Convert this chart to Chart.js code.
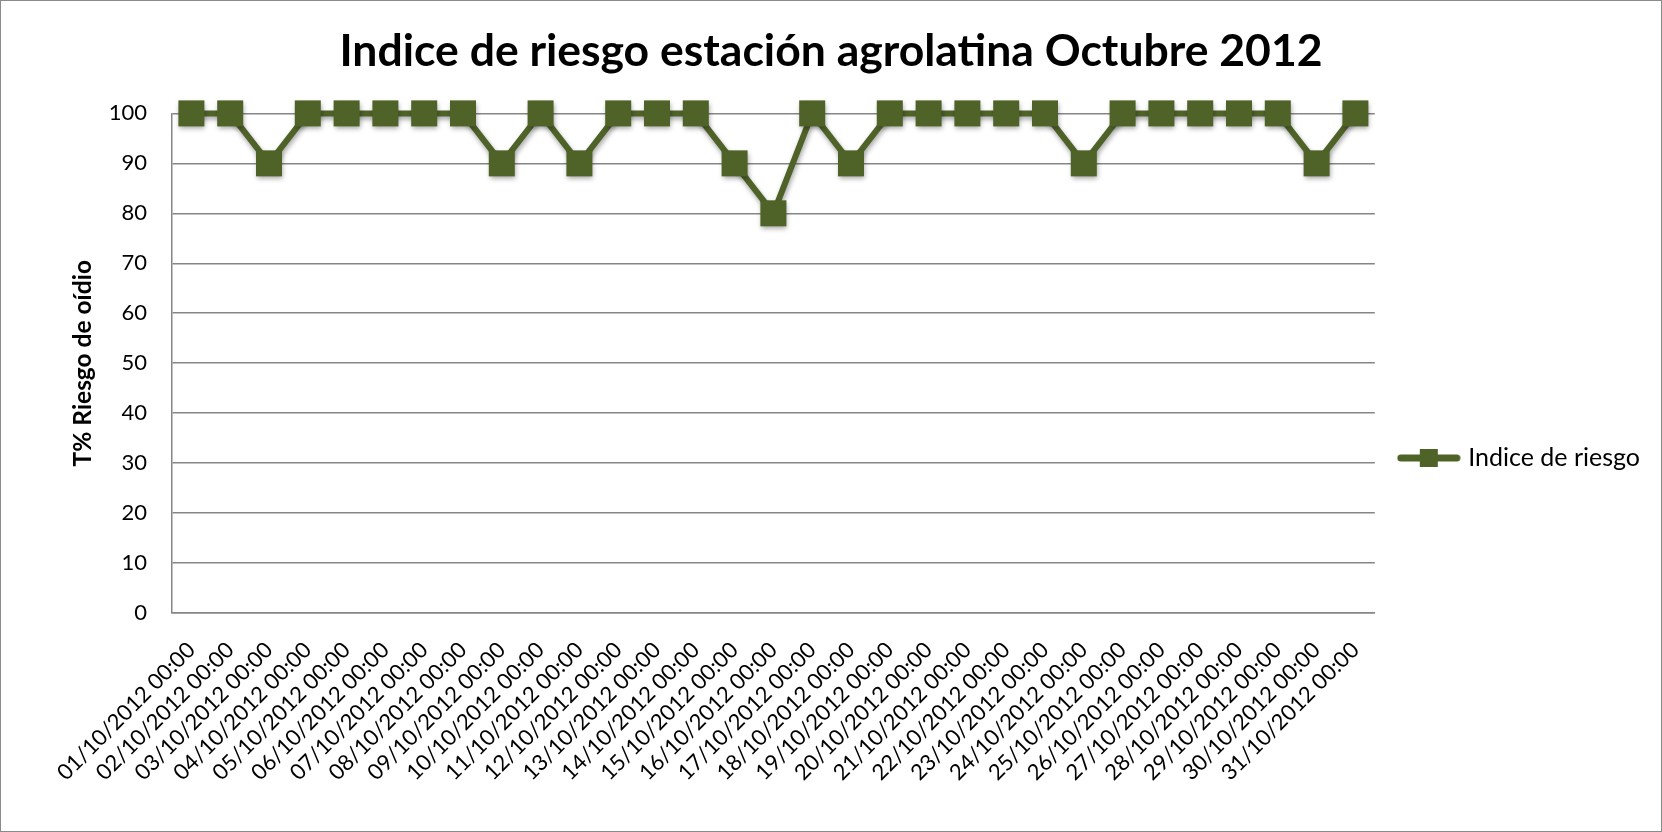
<!DOCTYPE html>
<html lang="es">
<head>
  <meta charset="UTF-8">
  <title>Indice de riesgo</title>
  <script src="https://cdn.jsdelivr.net/npm/chart.js"></script>
  <style>
    html, body { margin: 0; padding: 0; background: #fff; }
    #chart { display: block; }
  </style>
</head>
<body>
  <canvas id="chart" width="1662" height="832"></canvas>

  <script>
    // datos
    const fechas = [
      '01/10/2012 00:00', '02/10/2012 00:00', '03/10/2012 00:00', '04/10/2012 00:00',
      '05/10/2012 00:00', '06/10/2012 00:00', '07/10/2012 00:00', '08/10/2012 00:00',
      '09/10/2012 00:00', '10/10/2012 00:00', '11/10/2012 00:00', '12/10/2012 00:00',
      '13/10/2012 00:00', '14/10/2012 00:00', '15/10/2012 00:00', '16/10/2012 00:00',
      '17/10/2012 00:00', '18/10/2012 00:00', '19/10/2012 00:00', '20/10/2012 00:00',
      '21/10/2012 00:00', '22/10/2012 00:00', '23/10/2012 00:00', '24/10/2012 00:00',
      '25/10/2012 00:00', '26/10/2012 00:00', '27/10/2012 00:00', '28/10/2012 00:00',
      '29/10/2012 00:00', '30/10/2012 00:00', '31/10/2012 00:00'
    ];
    const indiceRiesgo = [
      100, 100, 90, 100, 100, 100, 100, 100, 90, 100,
      90, 100, 100, 100, 90, 80, 100, 90, 100, 100,
      100, 100, 100, 90, 100, 100, 100, 100, 100, 90,
      100
    ];
    const yMin = 0;
    const yMax = 100;
    const yStep = 10;

    const verde = '#4F6228';
    const gris = '#868686';
    const fuente = 'Lato, "Open Sans", sans-serif';

    // simbolo de la leyenda: linea con marcador cuadrado
    const simbolo = document.createElement('canvas');
    simbolo.width = 64;
    simbolo.height = 20;
    (function () {
      const c = simbolo.getContext('2d');
      c.strokeStyle = verde;
      c.lineWidth = 7;
      c.lineCap = 'round';
      c.beginPath();
      c.moveTo(4, 10);
      c.lineTo(60, 10);
      c.stroke();
      c.fillStyle = verde;
      c.fillRect(23, 1, 18, 18);
    })();

    // sombra debajo de la serie, como en Excel
    const sombra = {
      id: 'sombra',
      beforeDatasetsDraw(chart) {
        const ctx = chart.ctx;
        ctx.save();
        ctx.shadowColor = 'rgba(0,0,0,0.35)';
        ctx.shadowBlur = 5;
        ctx.shadowOffsetX = 1;
        ctx.shadowOffsetY = 3;
      },
      afterDatasetsDraw(chart) {
        chart.ctx.restore();
      }
    };

    // marco exterior
    const marco = {
      id: 'marco',
      afterDraw(chart) {
        const ctx = chart.ctx;
        ctx.save();
        ctx.strokeStyle = '#8a8a8a';
        ctx.lineWidth = 1;
        ctx.strokeRect(0.5, 0.5, chart.width - 1, chart.height - 1);
        ctx.restore();
      }
    };

    new Chart(document.getElementById('chart'), {
      type: 'line',
      data: {
        labels: fechas,
        datasets: [{
          label: 'Indice de riesgo',
          data: indiceRiesgo,
          borderColor: verde,
          backgroundColor: verde,
          borderWidth: 6,
          borderJoinStyle: 'round',
          borderCapStyle: 'round',
          pointStyle: 'rect',
          pointRadius: 18.4,
          pointHoverRadius: 18.4,
          pointBackgroundColor: verde,
          pointBorderWidth: 0,
          tension: 0,
          fill: false,
          clip: false
        }]
      },
      plugins: [sombra, marco],
      options: {
        responsive: false,
        animation: false,
        layout: { padding: { left: 12, right: 12 } },
        plugins: {
          title: {
            display: true,
            text: 'Indice de riesgo estación agrolatina Octubre 2012',
            color: '#000',
            font: { family: fuente, size: 44.5, weight: 'bold' },
            padding: { top: 25, bottom: 35 }
          },
          legend: {
            position: 'right',
            title: {
              display: true,
              text: '',
              font: { family: fuente, size: 20 },
              padding: { top: 60, bottom: 0 }
            },
            labels: {
              usePointStyle: true,
              pointStyle: simbolo,
              pointStyleWidth: 54,
              padding: 27,
              color: '#000',
              font: { family: fuente, size: 25 },
              generateLabels(chart) {
                return [{
                  text: chart.data.datasets[0].label,
                  pointStyle: simbolo,
                  fillStyle: verde,
                  strokeStyle: verde,
                  fontColor: '#000',
                  lineWidth: 0,
                  datasetIndex: 0,
                  hidden: false
                }];
              }
            }
          },
          tooltip: { enabled: false }
        },
        scales: {
          x: {
            offset: true,
            grid: { display: false, drawTicks: false },
            border: { display: true, color: gris, width: 1.5 },
            ticks: {
              autoSkip: false,
              minRotation: 45,
              maxRotation: 45,
              padding: 24,
              color: '#000',
              font: { family: fuente, size: 22 }
            },
            afterFit(scale) { scale.height = 219; }
          },
          y: {
            min: yMin,
            max: yMax,
            grid: { color: gris, lineWidth: 1.5, drawTicks: false },
            border: { display: true, color: gris, width: 1.5 },
            ticks: {
              stepSize: yStep,
              padding: 25,
              color: '#000',
              font: { family: fuente, size: 22 }
            },
            title: {
              display: true,
              text: 'T% Riesgo de oídio',
              color: '#000',
              font: { family: fuente, size: 24.5, weight: 'bold' },
              padding: { top: 56, bottom: 10 }
            },
            afterFit(scale) { scale.width = 160; }
          }
        }
      }
    });
  </script>
</body>
</html>
